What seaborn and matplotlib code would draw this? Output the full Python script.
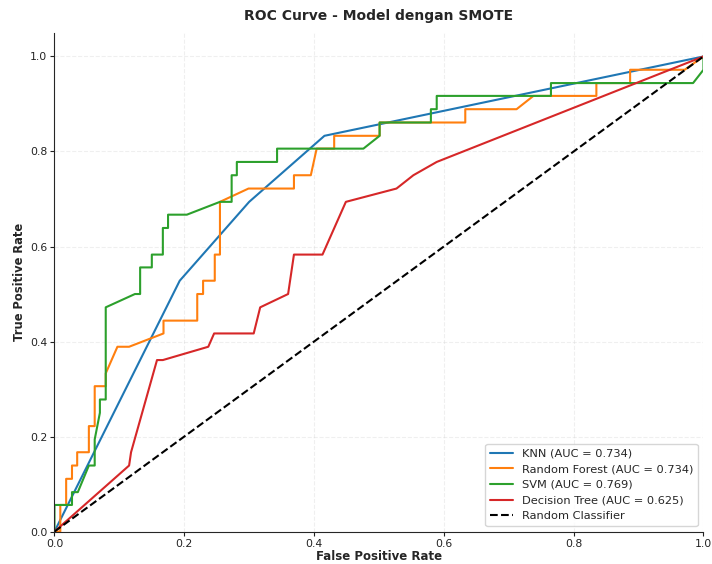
import matplotlib
matplotlib.use("Agg")
import matplotlib.pyplot as plt
import seaborn as sns
import numpy as np

# ---- data ----
knn_fpr = [0.0, 0.193, 0.300, 0.416, 1.0]
knn_tpr = [0.0, 0.528, 0.694, 0.833, 1.0]

rf_fpr = [0.0, 0.009, 0.009, 0.018, 0.018, 0.027, 0.027, 0.035, 0.035, 0.053, 0.053,
          0.062, 0.062, 0.079, 0.079, 0.097, 0.115, 0.168, 0.168, 0.220, 0.220, 0.229,
          0.229, 0.247, 0.247, 0.255, 0.255, 0.299, 0.369, 0.369, 0.395, 0.404, 0.431,
          0.431, 0.501, 0.501, 0.633, 0.633, 0.712, 0.738, 0.835, 0.835, 0.887, 0.887,
          0.971, 1.0]
rf_tpr = [0.0, 0.0, 0.056, 0.056, 0.111, 0.111, 0.139, 0.139, 0.167, 0.167, 0.222,
          0.222, 0.306, 0.306, 0.333, 0.389, 0.389, 0.417, 0.444, 0.444, 0.500, 0.500,
          0.528, 0.528, 0.583, 0.583, 0.694, 0.722, 0.722, 0.750, 0.750, 0.806, 0.806,
          0.833, 0.833, 0.861, 0.861, 0.889, 0.889, 0.917, 0.917, 0.944, 0.944, 0.972,
          0.972, 1.0]

svm_fpr = [0.0, 0.0, 0.027, 0.027, 0.036, 0.053, 0.062, 0.062, 0.070, 0.070, 0.079,
           0.079, 0.124, 0.132, 0.132, 0.150, 0.150, 0.167, 0.167, 0.175, 0.175, 0.204,
           0.255, 0.273, 0.273, 0.281, 0.281, 0.343, 0.343, 0.476, 0.501, 0.501, 0.580,
           0.580, 0.589, 0.589, 0.765, 0.765, 0.984, 1.0, 1.0]
svm_tpr = [0.0, 0.056, 0.056, 0.083, 0.083, 0.139, 0.139, 0.194, 0.250, 0.278, 0.278,
           0.472, 0.500, 0.500, 0.556, 0.556, 0.583, 0.583, 0.639, 0.639, 0.667, 0.667,
           0.694, 0.694, 0.750, 0.750, 0.778, 0.778, 0.806, 0.806, 0.833, 0.861, 0.861,
           0.889, 0.889, 0.917, 0.917, 0.944, 0.944, 0.972, 1.0]

dt_fpr = [0.0, 0.115, 0.118, 0.158, 0.167, 0.237, 0.246, 0.307, 0.317, 0.360, 0.369,
          0.413, 0.449, 0.527, 0.553, 0.589, 1.0]
dt_tpr = [0.0, 0.139, 0.167, 0.361, 0.361, 0.389, 0.417, 0.417, 0.472, 0.500, 0.583,
          0.583, 0.694, 0.722, 0.750, 0.778, 1.0]

models = ["KNN", "Random Forest", "SVM", "Decision Tree"]
aucs = [0.734, 0.734, 0.769, 0.625]
colors = ["#1f77b4", "#ff7f0e", "#2ca02c", "#d62728"]

sns.set_style("ticks")
plt.rcParams['font.family'] = ['DejaVu Sans']

fig = plt.figure(figsize=(7.12, 5.64), dpi=100)
ax = fig.add_axes([0.0765, 0.0575, 0.9115, 0.8845])

curves = [(knn_fpr, knn_tpr), (rf_fpr, rf_tpr), (svm_fpr, svm_tpr), (dt_fpr, dt_tpr)]
for (fx, ty), name, auc, col in zip(curves, models, aucs, colors):
    sns.lineplot(x=fx, y=ty, sort=False, estimator=None, ax=ax, color=col,
                 linewidth=1.5, label=f"{name} (AUC = {auc:.3f})")

ax.plot([0, 1], [0, 1], 'k--', linewidth=1.5, label="Random Classifier")

ax.set_xlim(0.0, 1.0)
ax.set_ylim(0.0, 1.05)
ax.set_xticks([0.0, 0.2, 0.4, 0.6, 0.8, 1.0])
ax.set_yticks([0.0, 0.2, 0.4, 0.6, 0.8, 1.0])
ax.tick_params(labelsize=7.8, length=3, pad=2, colors="#222222")
ax.set_xlabel("False Positive Rate", fontsize=8.5, fontweight="bold", labelpad=1)
ax.set_ylabel("True Positive Rate", fontsize=8.3, fontweight="bold", labelpad=3)
ax.set_title("ROC Curve - Model dengan SMOTE", fontsize=10, fontweight="bold", pad=9)
ax.grid(True, linestyle='--', alpha=0.3)
sns.despine(ax=ax)
ax.legend(loc="lower right", fontsize=8.2, frameon=True)

fig.savefig("out.png", dpi=100)
